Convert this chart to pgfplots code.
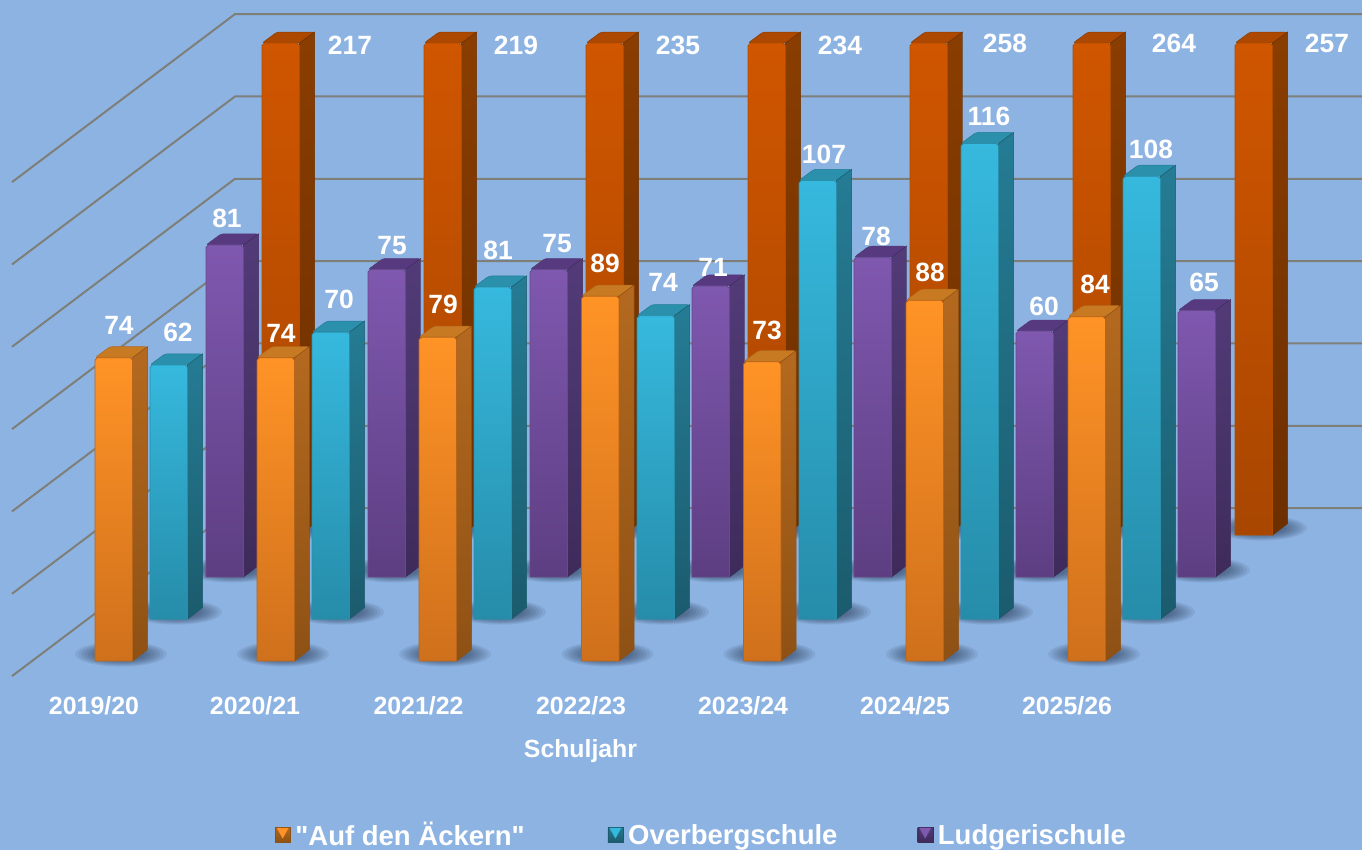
\documentclass[border=0pt]{standalone}
\usepackage{fontspec}
\setmainfont{Liberation Sans}
\newfontfamily\plainq{Liberation Sans}
\usepackage{pgfplots}
\pgfplotsset{compat=1.18}
\definecolor{bgc}{HTML}{8DB3E2}
\definecolor{gridc}{HTML}{7F7F7A}
\definecolor{shc}{HTML}{1E2C48}
% series o: front orange
\definecolor{oFT}{HTML}{FF9326}\definecolor{oFB}{HTML}{CF701C}\definecolor{oST}{HTML}{B4691F}\definecolor{oSB}{HTML}{8E5114}\definecolor{oTC}{HTML}{C87A22}\definecolor{oE}{HTML}{B8651C}
% series t: teal
\definecolor{tFT}{HTML}{36B9DE}\definecolor{tFB}{HTML}{268CA9}\definecolor{tST}{HTML}{257C94}\definecolor{tSB}{HTML}{1B5B6D}\definecolor{tTC}{HTML}{2A90AC}\definecolor{tE}{HTML}{2A8FAB}
% series p: purple
\definecolor{pFT}{HTML}{7F58AF}\definecolor{pFB}{HTML}{5D3E82}\definecolor{pST}{HTML}{523B78}\definecolor{pSB}{HTML}{3E2B5A}\definecolor{pTC}{HTML}{57397F}\definecolor{pE}{HTML}{664A8A}
% series d: dark orange
\definecolor{dFT}{HTML}{D05600}\definecolor{dFB}{HTML}{A84600}\definecolor{dST}{HTML}{8A3D00}\definecolor{dSB}{HTML}{6C2F00}\definecolor{dTC}{HTML}{AC4800}\definecolor{dE}{HTML}{B04C00}

\newcommand\shlayer[3]{\fill[shc,opacity=0.085] (axis cs:#1,#2) ellipse [x radius=#3*46pt,y radius=#3*12.5pt];}
% #1 left x, #2 value, #3 depth offset (value units), #4 colour prefix
\newcommand\tdbar[4]{%
  \pgfmathsetmacro\xa{#1}\pgfmathsetmacro\xb{#1+37.5}\pgfmathsetmacro\xc{#1+52.5}%
  \pgfmathsetmacro\xe{#1+2.5}\pgfmathsetmacro\xf{#1+35}%
  \pgfmathsetmacro\yb{#3}\pgfmathsetmacro\yt{#3+min(#2,120)}\pgfmathsetmacro\yu{\yt-0.6}%
  \pgfmathsetmacro\ybb{#3+2.8}\pgfmathsetmacro\ytt{\yt+2.7}%
  \pgfmathsetmacro\xd{#1+15}%
  \pgfmathsetmacro\sx{#1+26}\pgfmathsetmacro\sy{#3+1.7}%
  \edef\tmp{\noexpand\shlayer{\sx}{\sy}{1}\noexpand\shlayer{\sx}{\sy}{.93}\noexpand\shlayer{\sx}{\sy}{.86}\noexpand\shlayer{\sx}{\sy}{.79}\noexpand\shlayer{\sx}{\sy}{.72}\noexpand\shlayer{\sx}{\sy}{.65}\noexpand\shlayer{\sx}{\sy}{.58}\noexpand\shlayer{\sx}{\sy}{.51}\noexpand\shlayer{\sx}{\sy}{.44}}\tmp
  \addplot[forget plot,draw=#4ST,line width=0.5pt,rounded corners=2.5pt,fill=#4TC] coordinates {(\xa,\yt)(\xb,\yt)(\xc,\ytt)(\xd,\ytt)} --cycle;
  \addplot[forget plot,draw=#4SB,line width=0.5pt,top color=#4ST,bottom color=#4SB] coordinates {(\xb,\yb)(\xc,\ybb)(\xc,\ytt)(\xb,\yt)} --cycle;
  \addplot[forget plot,draw=#4E,line width=0.8pt,top color=#4FT,bottom color=#4FB] coordinates {(\xa,\yb)(\xb,\yb)(\xb,\yu)(\xf,\yt)(\xe,\yt)(\xa,\yu)} --cycle;
}
\pgfplotsset{legimg/.style={legend image code/.code={%
  \shade[top color=#1ST,bottom color=#1SB,draw=#1SB,line width=0.4pt] (0pt,-8pt) rectangle (15pt,7pt);
  \fill[#1FT] (2pt,6pt) -- (13pt,6pt) -- (7.5pt,-4pt) -- cycle;}}}
\begin{document}
\begin{tikzpicture}
\begin{axis}[
  scale only axis,width=1362pt,height=850pt,
  xmin=0,xmax=1362,ymin=-46.0976,ymax=161.2195,
  axis line style={draw=none},
  axis background/.style={fill=bgc},
  major tick length=0pt,
  ytick=\empty,
  xtick={94,255,418.5,581,743,905,1067},
  xticklabels={2019/20,2020/21,2021/22,2022/23,2023/24,2024/25,2025/26},
  xticklabel style={font=\fontsize{24.9}{30}\selectfont\bfseries,text=white,anchor=center,yshift=144pt},
  xlabel={Schuljahr},
  xlabel style={at={(axis description cs:0.4262,0.1165)},anchor=center,font=\fontsize{24.8}{30}\selectfont\bfseries,text=white},
  legend columns=3,
  legend style={at={(axis cs:275,-42.2)},anchor=west,draw=none,fill=none,inner sep=0pt,outer sep=0pt,
    font=\fontsize{27.5}{33}\selectfont\bfseries,text=white,
    /tikz/every odd column/.append style={column sep=3pt},
    /tikz/every even column/.append style={column sep=0pt}},
  legend cell align=left,
]
% back and side wall grid, every 20 units
\addplot[forget plot,gridc,line width=2pt] coordinates {(12,-3.66)(235,37.32)(1362,37.32)};
\addplot[forget plot,gridc,line width=2pt] coordinates {(12,16.42)(235,57.40)(1362,57.40)};
\addplot[forget plot,gridc,line width=2pt] coordinates {(12,36.50)(235,77.48)(1362,77.48)};
\addplot[forget plot,gridc,line width=2pt] coordinates {(12,56.58)(235,97.56)(1362,97.56)};
\addplot[forget plot,gridc,line width=2pt] coordinates {(12,76.66)(235,117.64)(1362,117.64)};
\addplot[forget plot,gridc,line width=2pt] coordinates {(12,96.74)(235,137.72)(1362,137.72)};
\addplot[forget plot,gridc,line width=2pt] coordinates {(12,116.82)(235,157.80)(1362,157.80)};
% back series
\tdbar{262}{217}{30.73}{d}
\tdbar{424}{219}{30.73}{d}
\tdbar{586}{235}{30.73}{d}
\tdbar{748}{234}{30.73}{d}
\tdbar{910}{258}{30.73}{d}
\tdbar{1073}{264}{30.73}{d}
\tdbar{1235}{257}{30.73}{d}
% Ludgerischule
\tdbar{206}{81}{20.49}{p}
\tdbar{368}{75}{20.49}{p}
\tdbar{530}{75}{20.49}{p}
\tdbar{692}{71}{20.49}{p}
\tdbar{854}{78}{20.49}{p}
\tdbar{1016}{60}{20.49}{p}
\tdbar{1178}{65}{20.49}{p}
% Overbergschule
\tdbar{150}{62}{10.24}{t}
\tdbar{312}{70}{10.24}{t}
\tdbar{474}{81}{10.24}{t}
\tdbar{637}{74}{10.24}{t}
\tdbar{799}{107}{10.24}{t}
\tdbar{961}{116}{10.24}{t}
\tdbar{1123}{108}{10.24}{t}
% Auf den Aeckern
\tdbar{95}{74}{0}{o}
\tdbar{257}{74}{0}{o}
\tdbar{419}{79}{0}{o}
\tdbar{581.5}{89}{0}{o}
\tdbar{743.5}{73}{0}{o}
\tdbar{906}{88}{0}{o}
\tdbar{1068}{84}{0}{o}
% data labels: x, pixel height of the label, value
\addplot[forget plot,draw=none,mark=none,nodes near coords,point meta=explicit symbolic,
  every node near coord/.style={anchor=center,inner sep=0pt,text=white,font=\fontsize{26.4}{30}\selectfont\bfseries}]
  table[x=x,y expr={(661-\thisrow{py})/4.1},meta=v] {
x py v
119 325 74
281 333 74
443 304 79
605 263 89
767 330 73
930 272 88
1095 284 84
178 332 62
339 299 70
498 250 81
663 282 74
824 154 107
989 116 116
1151 149 108
227 218 81
392 245 75
557 243 75
713 267 71
876 236 78
1044 306 60
1204 282 65
350 45 217
516 45 219
678 45 235
840 45 234
1005 43 258
1174 43 264
1327 43 257
};
\addlegendimage{legimg=o}
\addlegendentry{\strut{\plainq\bfseries "}Auf den Äckern{\plainq\bfseries "}\rule{81pt}{0pt}}
\addlegendimage{legimg=t}
\addlegendentry{\strut Overbergschule\rule{78pt}{0pt}}
\addlegendimage{legimg=p}
\addlegendentry{\strut Ludgerischule}
\end{axis}
\end{tikzpicture}
\end{document}
